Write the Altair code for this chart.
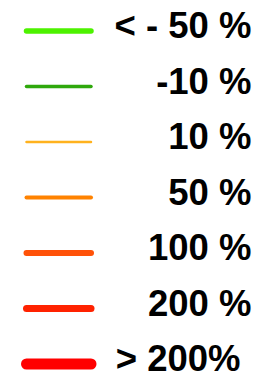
import altair as alt
import pandas as pd

labels = ["< - 50 %", "-10 %", "10 %", "50 %", "100 %", "200 %", "> 200%"]
colors = ["#4DF200", "#2FA80C", "#FFB21E", "#FF8200", "#FF5208", "#FF2200", "#FF0000"]
widths = [5.5, 3.5, 2.5, 4, 6, 7, 11]

df = pd.DataFrame({"label": labels})

yscale = alt.Scale(type="point", domain=labels, range=[23, 356], padding=0)
y = alt.Y("label:N", scale=yscale, axis=None)

lines = alt.Chart(df).mark_rule(strokeCap="round").encode(
    y=y,
    x=alt.value(18.5),
    x2=alt.value(83),
    color=alt.Color("label:N", scale=alt.Scale(domain=labels, range=colors), legend=None),
    strokeWidth=alt.StrokeWidth("label:O", scale=alt.Scale(type="ordinal", domain=labels, range=widths), legend=None),
)

text_main = alt.Chart(df).transform_filter(
    alt.datum.label != "> 200%"
).mark_text(
    align="right", baseline="alphabetic", dy=7, font="Liberation Sans",
    fontWeight="bold", fontSize=36.5, color="#000000"
).encode(y=y, x=alt.value(243.5), text="label:N")

text_last = alt.Chart(df).transform_filter(
    alt.datum.label == "> 200%"
).mark_text(
    align="right", baseline="alphabetic", dy=7, font="Liberation Sans",
    fontWeight="bold", fontSize=36.5, color="#000000"
).encode(y=y, x=alt.value(232.5), text="label:N")

chart = alt.layer(lines, text_main, text_last).properties(
    width=255, height=367, autosize=alt.AutoSizeParams(type="none"), padding=0,
    background="white"
).configure_view(stroke=None)

chart.save("out.html", embed_options={"renderer": "svg", "actions": False})
